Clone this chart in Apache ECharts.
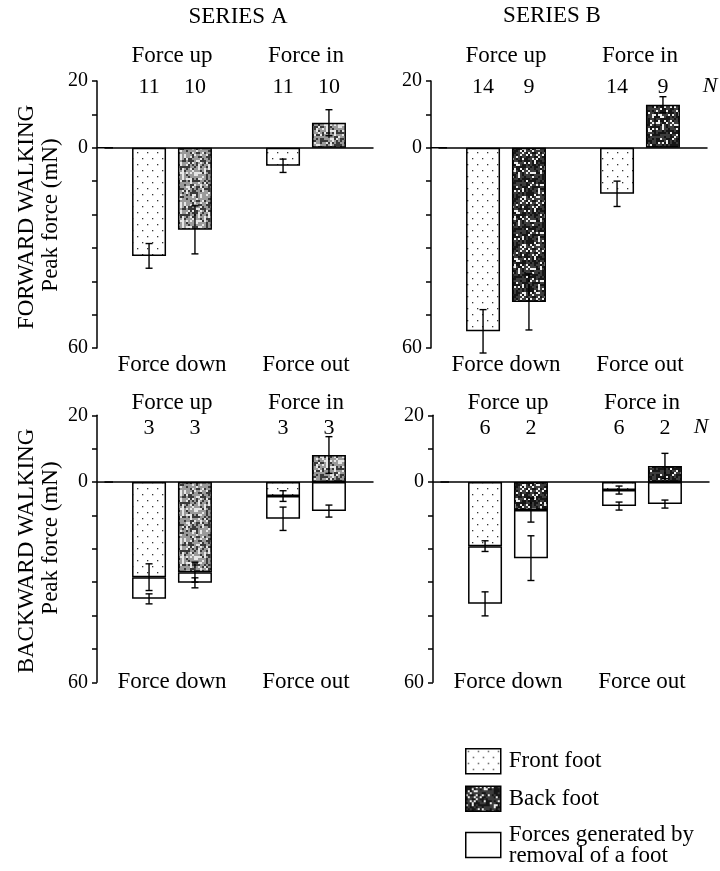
<!DOCTYPE html>
<html><head><meta charset="utf-8">
<script src="https://cdn.jsdelivr.net/npm/echarts@6/dist/echarts.min.js"></script>
<style>html,body{margin:0;padding:0;background:#fff}#c{width:720px;height:871px}</style>
</head><body><div id="c"></div>
<script>
// ---------------- DATA ----------------
const groupsBottom = ['Force down', 'Force out'];
const groupsTop = ['Force up', 'Force in'];
const seriesTitles = ['SERIES A', 'SERIES B'];
const rowTitles = ['FORWARD WALKING', 'BACKWARD WALKING'];
const yAxisName = 'Peak force (mN)';
const yShownTicks = [20, 0, -60];
const legendNames = ['Front foot', 'Back foot', 'Forces generated by\nremoval of a foot'];

// Forward walking, series A  (negative = down / out, positive = up / in)
const fwdA_front = [-32.4, -5.4];
const fwdA_frontErr = [3.7, 2.0];
const fwdA_back = [-24.6, 7.5];
const fwdA_backErr = [7.2, 3.9];
const fwdA_nFront = [11, 11];
const fwdA_nBack = [10, 10];

// Forward walking, series B
const fwdB_front = [-55.0, -13.8];
const fwdB_frontErr = [6.5, 3.8];
const fwdB_back = [-46.2, 12.9];
const fwdB_backErr = [8.4, 2.4];
const fwdB_nFront = [14, 14];
const fwdB_nBack = [9, 9];

// Backward walking, series A (removal = total reached after removal of a foot)
const bwdA_front = [-28.5, -4.2];
const bwdA_frontErr = [4.0, 1.6];
const bwdA_frontRemoval = [-35.0, -11.0];
const bwdA_frontRemovalErr = [1.5, 3.5];
const bwdA_back = [-27.0, 8.1];
const bwdA_backErr = [3.0, 5.5];
const bwdA_backRemoval = [-30.2, -8.7];
const bwdA_backRemovalErr = [1.5, 1.8];
const bwdA_nFront = [3, 3];
const bwdA_nBack = [3, 3];

// Backward walking, series B
const bwdB_front = [-19.2, -2.4];
const bwdB_frontErr = [1.6, 1.2];
const bwdB_frontRemoval = [-36.5, -7.2];
const bwdB_frontRemovalErr = [3.6, 1.2];
const bwdB_back = [-8.4, 4.8];
const bwdB_backErr = [3.6, 3.8];
const bwdB_backRemoval = [-22.8, -6.6];
const bwdB_backRemovalErr = [6.7, 1.2];
const bwdB_nFront = [6, 6];
const bwdB_nBack = [2, 2];

// ---------------- STYLE / LAYOUT ----------------
const FONT = '"Liberation Serif", "Times New Roman", serif';
const BAR_W = 34, BAR_GAP = 0.35;
const OFF = BAR_W * (1 + BAR_GAP) / 2;
const GRID_H = 267, GRID_W = 268, YOFF = 8;
const layout = [
  {axisX: 97,  top: 81,    topMargin: 14, botMargin: 5,   countDy: 6},
  {axisX: 431, top: 81,    topMargin: 14, botMargin: 5,   countDy: 6},
  {axisX: 97,  top: 415.3, topMargin: 1,  botMargin: -12, countDy: 13},
  {axisX: 433, top: 415.3, topMargin: 1,  botMargin: -12, countDy: 13}
];

function dotPattern() {
  const c = document.createElement('canvas'); c.width = 10; c.height = 12;
  const g = c.getContext('2d'); g.fillStyle = '#fff'; g.fillRect(0, 0, 10, 12);
  g.fillStyle = '#333';
  g.fillRect(2, 2, 1.3, 1.3); g.fillRect(7, 8, 1.3, 1.3);
  return c;
}
function speckle(base, dark, pDark, light, pWhite, cell) {
  const S = 48, c = document.createElement('canvas'); c.width = S; c.height = S;
  const g = c.getContext('2d'); g.fillStyle = base; g.fillRect(0, 0, S, S);
  for (let y = 0; y < S; y += cell) for (let x = 0; x < S; x += cell) {
    let h = ((x * 374761393) ^ (y * 668265263)) >>> 0;
    h = Math.imul(h ^ (h >>> 13), 1274126177) >>> 0;
    h = (h ^ (h >>> 16)) >>> 0;
    const v = (h % 1000) / 1000;
    if (v < pDark) { g.fillStyle = dark; g.fillRect(x, y, cell, cell); }
    else if (v < pDark + pWhite) { g.fillStyle = light; g.fillRect(x, y, cell, cell); }
  }
  return c;
}
const frontFill = {image: dotPattern(), repeat: 'repeat'};
const backFillA = {image: speckle('#9a9a9a', '#3a3a3a', 0.30, '#e6e6e6', 0.22, 2), repeat: 'repeat'};
const backFillB = {image: speckle('#3c3c3c', '#161616', 0.42, '#eeeeee', 0.16, 2), repeat: 'repeat'};

const panels = [
  {front: fwdA_front, frontErr: fwdA_frontErr, back: fwdA_back, backErr: fwdA_backErr, nF: fwdA_nFront, nB: fwdA_nBack, backFill: backFillA},
  {front: fwdB_front, frontErr: fwdB_frontErr, back: fwdB_back, backErr: fwdB_backErr, nF: fwdB_nFront, nB: fwdB_nBack, backFill: backFillB},
  {front: bwdA_front, frontErr: bwdA_frontErr, back: bwdA_back, backErr: bwdA_backErr, nF: bwdA_nFront, nB: bwdA_nBack, backFill: backFillA,
   frontRem: bwdA_frontRemoval, frontRemErr: bwdA_frontRemovalErr, backRem: bwdA_backRemoval, backRemErr: bwdA_backRemovalErr},
  {front: bwdB_front, frontErr: bwdB_frontErr, back: bwdB_back, backErr: bwdB_backErr, nF: bwdB_nFront, nB: bwdB_nBack, backFill: backFillB,
   frontRem: bwdB_frontRemoval, frontRemErr: bwdB_frontRemovalErr, backRem: bwdB_backRemoval, backRemErr: bwdB_backRemovalErr}
];

const grids = [], xAxes = [], yAxes = [], series = [];
const barBorder = {borderColor: '#000', borderWidth: 1.5};

function increments(foot, total) {
  return total.map((t, i) => Math.sign(t) === Math.sign(foot[i]) ? t - foot[i] : t);
}

panels.forEach((p, i) => {
  const L = layout[i];
  grids.push({left: L.axisX + YOFF, top: L.top, width: GRID_W, height: GRID_H, outerBoundsMode: 'none', containLabel: false});
  const xi = xAxes.length;
  xAxes.push({type: 'category', gridIndex: i, data: groupsBottom,
    axisLine: {onZero: true, lineStyle: {color: '#000', width: 1.5}, symbol: ['rect', 'none'], symbolSize: [1.5, YOFF * 2]},
    axisTick: {show: false}, axisLabel: {show: false}, splitLine: {show: false}});
  xAxes.push({type: 'category', gridIndex: i, position: 'bottom', data: groupsBottom,
    axisLine: {show: false, onZero: false}, axisTick: {show: false}, splitLine: {show: false},
    axisLabel: {interval: 0, margin: L.botMargin, fontFamily: FONT, fontSize: 23, color: '#000'}});
  xAxes.push({type: 'category', gridIndex: i, position: 'top', data: groupsTop,
    axisLine: {show: false, onZero: false}, axisTick: {show: false}, splitLine: {show: false},
    axisLabel: {interval: 0, margin: L.topMargin, fontFamily: FONT, fontSize: 23, color: '#000'}});
  yAxes.push({type: 'value', gridIndex: i, min: -60, max: 20, interval: 10, offset: YOFF,
    axisLine: {show: true, lineStyle: {color: '#000', width: 1.5}},
    axisTick: {show: true, length: 5, lineStyle: {color: '#000', width: 1.5}},
    splitLine: {show: false},
    axisLabel: {margin: 9, fontFamily: FONT, fontSize: 20, color: '#000',
      formatter: v => yShownTicks.indexOf(v) >= 0 ? String(Math.abs(v)) : ''}});

  const common = {type: 'bar', xAxisIndex: xi, yAxisIndex: i, barWidth: BAR_W, barGap: (BAR_GAP * 100) + '%',
    emphasis: {disabled: true}, silent: true};
  series.push(Object.assign({}, common, {name: legendNames[0], stack: 'f' + i, data: p.front,
    itemStyle: Object.assign({color: frontFill}, barBorder)}));
  if (p.frontRem) series.push(Object.assign({}, common, {name: legendNames[2], stack: 'f' + i,
    data: increments(p.front, p.frontRem), itemStyle: Object.assign({color: '#fff'}, barBorder)}));
  series.push(Object.assign({}, common, {name: legendNames[1], stack: 'b' + i, data: p.back,
    itemStyle: Object.assign({color: p.backFill}, barBorder)}));
  if (p.backRem) series.push(Object.assign({}, common, {name: legendNames[2], stack: 'b' + i,
    data: increments(p.back, p.backRem), itemStyle: Object.assign({color: '#fff'}, barBorder)}));

  // error bars: [category, value, error, side]
  const eb = [];
  p.front.forEach((v, c) => eb.push([c, v, p.frontErr[c], -1]));
  p.back.forEach((v, c) => eb.push([c, v, p.backErr[c], 1]));
  if (p.frontRem) p.frontRem.forEach((v, c) => eb.push([c, v, p.frontRemErr[c], -1]));
  if (p.backRem) p.backRem.forEach((v, c) => eb.push([c, v, p.backRemErr[c], 1]));
  series.push({type: 'custom', xAxisIndex: xi, yAxisIndex: i, z: 10, silent: true, data: eb,
    encode: {x: 0, y: 1},
    renderItem: (params, api) => {
      const c = api.value(0), v = api.value(1), e = api.value(2), s = api.value(3);
      const x = api.coord([c, v])[0] + s * OFF;
      const y1 = api.coord([c, v + e])[1], y2 = api.coord([c, v - e])[1];
      const st = {stroke: '#000', lineWidth: 1.4};
      return {type: 'group', children: [
        {type: 'line', shape: {x1: x, y1: y1, x2: x, y2: y2}, style: st},
        {type: 'line', shape: {x1: x - 3.5, y1: y1, x2: x + 3.5, y2: y1}, style: st},
        {type: 'line', shape: {x1: x - 3.5, y1: y2, x2: x + 3.5, y2: y2}, style: st}
      ]};
    }});
  // sample sizes: [category, N, side]
  const nd = [];
  p.nF.forEach((n, c) => nd.push([c, n, -1]));
  p.nB.forEach((n, c) => nd.push([c, n, 1]));
  series.push({type: 'custom', xAxisIndex: xi, yAxisIndex: i, z: 10, silent: true, data: nd,
    encode: {x: 0, y: 1},
    renderItem: (params, api) => {
      const c = api.value(0), n = api.value(1), s = api.value(2);
      const x = api.coord([c, 0])[0] + s * OFF;
      const y = params.coordSys.y + L.countDy;
      return {type: 'text', x: x, y: y, style: {text: String(n), fontFamily: FONT, fontSize: 22,
        fill: '#000', align: 'center', verticalAlign: 'middle'}};
    }});
});

function txt(t, x, y, size, extra) {
  return Object.assign({type: 'text', x: x, y: y, silent: true,
    style: {text: t, fontFamily: FONT, fontSize: size, fill: '#000', align: 'center', verticalAlign: 'middle'}}, extra || {});
}
const graphics = [
  txt(seriesTitles[0], 238, 17, 23),
  txt(seriesTitles[1], 552, 16, 23),
  txt(rowTitles[0], 27, 217, 23, {rotation: Math.PI / 2}),
  txt(yAxisName, 51, 215, 23, {rotation: Math.PI / 2}),
  txt(rowTitles[1], 27, 551, 23, {rotation: Math.PI / 2}),
  txt(yAxisName, 51, 538, 23, {rotation: Math.PI / 2})
];
const nItalic = (x, y) => ({type: 'text', x: x, y: y, silent: true,
  style: {text: 'N', fontFamily: FONT, fontSize: 22, fontStyle: 'italic', fill: '#000', align: 'center', verticalAlign: 'middle'}});
graphics.push(nItalic(710, 86), nItalic(701, 427));

const chart = echarts.init(document.getElementById('c'));
chart.setOption({
  animation: false,
  backgroundColor: '#fff',
  grid: grids, xAxis: xAxes, yAxis: yAxes, series: series,
  graphic: graphics,
  legend: {
    type: 'plain', orient: 'vertical', left: 465, top: 748, padding: 0, width: 250, height: 400,
    itemWidth: 35, itemHeight: 25, itemGap: 11,
    icon: 'rect', selectedMode: false,
    textStyle: {fontFamily: FONT, fontSize: 23, color: '#000', lineHeight: 21, padding: [0, 0, 0, 3]},
    data: [
      {name: legendNames[0], itemStyle: Object.assign({color: frontFill}, barBorder)},
      {name: legendNames[1], itemStyle: Object.assign({color: backFillB}, barBorder)},
      {name: legendNames[2], itemStyle: Object.assign({color: '#fff'}, barBorder)}
    ]
  }
});
</script></body></html>
